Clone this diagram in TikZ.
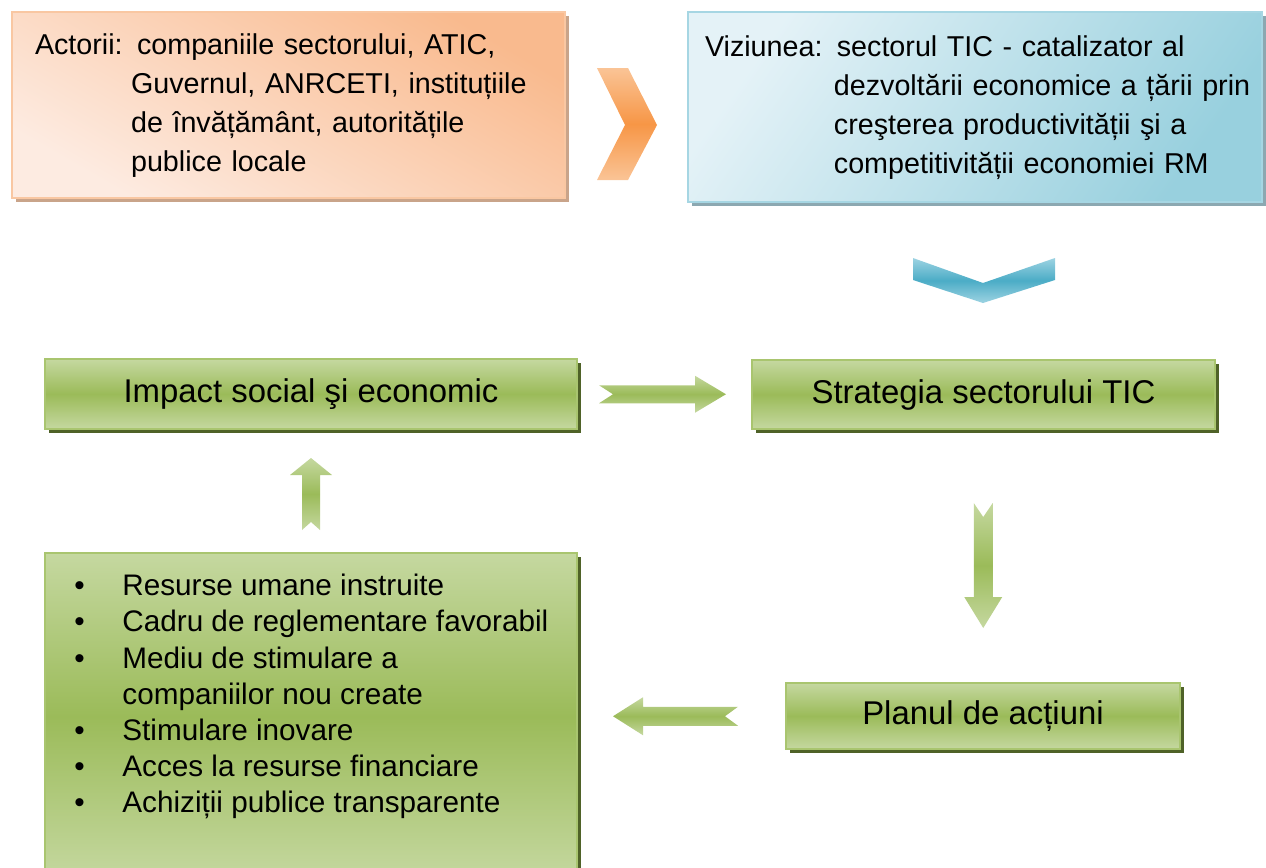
\documentclass[tikz,border=0pt]{standalone}
\usepackage{fontspec}
\setmainfont{Liberation Sans}
\usetikzlibrary{positioning,calc,shadows}

\definecolor{orDark}{HTML}{F9BA8E}
\definecolor{orPale}{HTML}{FDEBE1}
\definecolor{orLine}{HTML}{F9C7A2}
\definecolor{orShadow}{HTML}{C9A48A}
\definecolor{orArrow}{HTML}{F79646}
\definecolor{orArrowPale}{HTML}{FAC496}
\definecolor{blPale}{HTML}{E4F2F7}
\definecolor{blDark}{HTML}{98D0DE}
\definecolor{blLine}{HTML}{A6D6E3}
\definecolor{blShadow}{HTML}{8CA8B1}
\definecolor{blArrow}{HTML}{4BACC6}
\definecolor{blArrowPale}{HTML}{9DD3E2}
\definecolor{grPale}{HTML}{C5D8A0}
\definecolor{grDark}{HTML}{9BBB59}
\definecolor{grLine}{HTML}{A9C56F}
\definecolor{grShadow}{HTML}{4F6228}

\begin{document}
\begin{tikzpicture}[x=0.5pt,y=-0.5pt,
		orbox/.style={draw=orLine,line width=1pt,top color=orDark,bottom color=orPale,shading angle=-30,
			drop shadow={shadow xshift=2pt,shadow yshift=-2pt,fill=orShadow,opacity=1}},
		blbox/.style={draw=blLine,line width=1pt,top color=blPale,bottom color=blDark,shading angle=55,
			drop shadow={shadow xshift=2pt,shadow yshift=-2pt,fill=blShadow,opacity=1}},
		grbox/.style={draw=grLine,line width=1pt,top color=grPale,bottom color=grPale,middle color=grDark,
			drop shadow={shadow xshift=2pt,shadow yshift=-2pt,fill=grShadow,opacity=1},
			font=\fontsize{16.45}{19}\selectfont},
		grarrow/.style={top color=grPale,bottom color=grPale,middle color=grDark},
		textfont/.style={font=\fontsize{14.35}{19.6}\selectfont}]
	\useasboundingbox (0,0) rectangle (1266,868);

	% top boxes
	\node [orbox,textfont,minimum height=93pt,text width=253.5pt,inner xsep=11.5pt,align=left] (act) at (288.5,105)
		{\begin{tabular}{@{}l@{ }l@{}}
			Actorii: & companiile sectorului, ATIC,\\
			& \hspace*{-3pt}Guvernul, ANRCETI, instituțiile\\
			& \hspace*{-3pt}de învățământ, autoritățile\\
			& \hspace*{-3pt}publice locale
		\end{tabular}};
	\node [blbox,textfont,minimum height=95pt,text width=270pt,inner xsep=8.5pt,align=left] (viz) at (975,107)
		{\begin{tabular}{@{}l@{ }l@{}}
			Viziunea: & sectorul TIC - catalizator al\\
			& \hspace*{-1.5pt}dezvoltării economice a țării prin\\
			& \hspace*{-1.5pt}creşterea productivității şi a\\
			& \hspace*{-1.5pt}competitivității economiei RM
		\end{tabular}};

	% green boxes
	\node [grbox,minimum width=266pt,minimum height=35pt] (imp) at (311,394) {Impact social şi economic};
	\node [grbox,minimum width=231.5pt,minimum height=34.5pt] (str) at (983.5,394.5) {Strategia sectorului TIC};
	\node [grbox,minimum width=197pt,minimum height=33pt] (pla) at (983,716) {Planul de acțiuni};
	\node [grbox,minimum width=266pt,minimum height=163.5pt] (res) at (311,716.5) {};
	\node [anchor=north west,inner sep=0pt,font=\fontsize{14.85}{18.1}\selectfont] (lst) at ($(res.north west)+(30,18)$)
		{\begin{tabular}{@{}p{24pt}@{}l@{}}
			\textbullet & Resurse umane instruite\\
			\textbullet & Cadru de reglementare favorabil\\
			\textbullet & Mediu de stimulare a\\
			& companiilor nou create\\
			\textbullet & Stimulare inovare\\
			\textbullet & Acces la resurse financiare\\
			\textbullet & Achiziții publice transparente
		\end{tabular}};

	% arrows between the boxes
	\coordinate (a1) at ($(act.east)!0.5!(viz.west)$);
	\coordinate (a2) at ($(viz.south)!0.5!(str.north)$);
	\coordinate (a3) at ($(imp.east)!0.5!(str.west)$);
	\coordinate (a4) at ($(str.south)!0.5!(pla.north)$);
	\coordinate (a5) at ($(pla.west)!0.5!(res.east)$);
	\coordinate (a6) at ($(res.north)!0.5!(imp.south)$);
	\shade [top color=orArrowPale,bottom color=orArrowPale,middle color=orArrow,shift={(a1)}]
		(-29.5,-38) -- (1.5,-38) -- (30.5,19) -- (1.5,74) -- (-29.5,74) -- (-1.5,19) -- cycle;
	\shade [top color=blArrowPale,bottom color=blArrowPale,middle color=blArrow,shift={(a2)}]
		(-66.25,-23) -- (3.75,2) -- (75.75,-23) -- (75.75,-1) -- (3.75,22) -- (-66.25,-1) -- cycle;
	\shade [grarrow,shift={(a3)}]
		(-65.5,-9) -- (30.5,-9) -- (30.5,-18.5) -- (61.5,0) -- (30.5,18.5) -- (30.5,9) -- (-65.5,9) -- (-51.5,0) -- cycle;
	\shade [grarrow,shift={(a4)}]
		(-9.5,-53) -- (0,-39) -- (9.5,-53) -- (9.5,41) -- (19,41) -- (0,72) -- (-19,41) -- (-9.5,41) -- cycle;
	\shade [grarrow,shift={(a5)}]
		(-68.5,0) -- (-38.5,-19) -- (-38.5,-9.5) -- (56.5,-9.5) -- (43.5,0) -- (56.5,9.5) -- (-38.5,9.5) -- (-38.5,19) -- cycle;
	\shade [grarrow,shift={(a6)}]
		(0,-33) -- (21,-16) -- (9,-16) -- (9,39) -- (0,31) -- (-9,39) -- (-9,-16) -- (-21,-16) -- cycle;
\end{tikzpicture}
\end{document}
